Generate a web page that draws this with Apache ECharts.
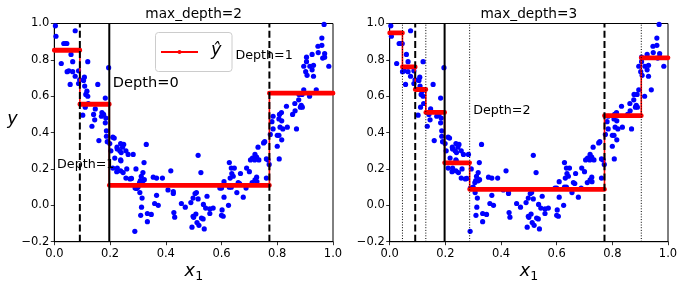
<!DOCTYPE html>
<html><head><meta charset="utf-8">
<script src="https://cdn.jsdelivr.net/npm/echarts@6/dist/echarts.min.js"></script>
<style>html,body{margin:0;padding:0;background:#fff}#c{width:684px;height:290px}</style>
</head><body><div id="c"></div>
<script>
// ---- data ----
const xs = [
0.004,0.006,0.025,0.034,0.040,0.045,0.046,0.052,0.066,0.057,0.060,0.066,0.075,0.075,0.087,0.087,0.091,0.105,0.108,0.109,
0.117,0.113,0.120,0.120,0.122,0.111,0.102,0.141,0.147,0.171,0.177,0.169,0.145,0.135,0.156,0.160,0.183,0.183,0.187,0.187,
0.190,0.195,0.185,0.199,
0.210,0.215,0.225,0.238,0.249,0.240,0.238,0.226,0.245,0.235,0.239,0.257,0.260,0.203,0.217,0.210,0.226,0.224,0.238,0.247,
0.257,0.272,0.277,0.265,0.283,0.293,0.312,0.318,0.318,0.322,0.306,0.300,0.290,0.295,0.307,0.315,0.313,0.310,0.334,0.348,
0.334,0.289,0.355,0.367,0.367,0.360,0.373,0.388,0.330,0.323,0.309,
0.418,0.427,0.408,0.427,0.429,0.432,0.456,0.470,0.490,0.498,0.498,0.494,0.505,0.510,0.516,0.512,0.519,0.528,0.534,0.538,
0.535,0.548,0.543,0.558,0.558,0.570,0.516,0.526,0.500,0.508,
0.602,0.600,0.606,0.594,0.600,0.609,0.609,0.625,0.628,0.628,0.631,0.635,0.637,0.646,0.635,0.642,0.655,0.660,0.668,0.665,
0.678,0.688,0.690,0.700,0.704,0.711,0.719,0.726,0.710,0.720,0.726,0.731,0.720,0.734,0.761,0.761,0.767,0.771,0.751,0.727,
0.800,0.807,0.755,0.775,0.781,0.785,0.785,0.800,0.806,0.810,0.806,0.808,0.815,0.816,0.820,0.816,0.833,0.836,0.855,0.863,
0.864,0.869,0.877,0.878,0.883,0.890,0.886,0.889,0.895,0.916,0.940,0.895,0.902,0.907,0.905,0.905,0.917,0.925,0.930,0.925,
0.930,0.946,0.960,0.947,0.970,0.963,0.970,0.985,0.960,0.968
];
const ys = [
0.987,0.930,0.780,0.890,0.890,0.890,0.735,0.740,0.735,0.665,0.830,0.790,0.960,0.710,0.740,0.670,0.690,0.687,0.705,0.656,
0.628,0.610,0.600,0.790,0.560,0.540,0.496,0.500,0.530,0.510,0.500,0.490,0.470,0.435,0.665,0.356,0.454,0.590,0.410,0.380,
0.350,0.757,0.480,0.340,
0.375,0.370,0.320,0.340,0.335,0.290,0.250,0.310,0.320,0.300,0.245,0.300,0.200,0.300,0.260,0.205,0.205,0.185,0.190,0.180,
0.150,0.145,0.148,0.280,0.280,0.200,0.160,0.135,0.180,0.235,0.125,0.100,0.095,0.093,0.070,0.040,-0.010,-0.055,-0.045,-0.050,
-0.090,-0.143,0.155,0.150,0.055,0.010,0.000,0.150,0.335,0.141,0.136,
0.190,0.075,0.085,0.065,-0.040,-0.065,0.010,-0.010,0.015,0.040,-0.060,-0.120,0.065,0.070,0.035,-0.095,-0.110,-0.070,-0.075,-0.130,
0.005,0.050,-0.015,-0.020,-0.045,-0.015,0.275,0.180,-0.066,-0.048,
-0.025,-0.055,-0.060,0.095,0.095,0.130,0.045,0.000,0.100,0.235,0.150,0.205,0.175,0.205,0.100,0.160,0.070,0.125,0.175,0.120,
0.045,0.095,0.205,0.185,0.250,0.260,0.250,0.265,0.125,0.140,0.155,0.320,0.280,0.250,0.150,0.255,0.250,0.225,0.343,0.130,
0.325,0.255,0.350,0.390,0.460,0.490,0.420,0.385,0.385,0.430,0.475,0.500,0.510,0.465,0.420,0.360,0.545,0.430,0.500,0.560,
0.520,0.420,0.580,0.610,0.540,0.540,0.550,0.610,0.635,0.600,0.635,0.765,0.735,0.715,0.790,0.815,0.765,0.745,0.770,0.830,
0.710,0.875,0.880,0.840,0.835,0.810,0.815,0.765,0.920,0.995
];
const depth0Splits = [0.1973];
const depth1Splits = [0.0917, 0.7718];
const depth2Splits = [0.0458, 0.1298, 0.2873, 0.9040];
const edgesDepth2 = [0, 0.0917, 0.1973, 0.7718, 1];
const predDepth2 = [0.853, 0.556, 0.110, 0.617];
const edgesDepth3 = [0, 0.0458, 0.0917, 0.1298, 0.1973, 0.2873, 0.7718, 0.9040, 1];
const predDepth3 = [0.948, 0.761, 0.637, 0.511, 0.234, 0.088, 0.493, 0.811];
const panelTitles = ['max_depth=2', 'max_depth=3'];
const xRange = [0, 1], yRange = [-0.2, 1];

// ---- build chart ----
const FONT = '"DejaVu Sans", sans-serif';
const chart = echarts.init(document.getElementById('c'), null, {renderer: 'canvas'});
const grids = [
  {left: 54.3, top: 23.5, width: 278.7, height: 218.2},
  {left: 389.7, top: 23.5, width: 278.3, height: 218.2}
];
function fmt(v){ return (Math.round(v*10)/10).toFixed(1).replace('-', '\u2212'); }
function axisCommon(){
  return {
    type: 'value', splitLine: {show: false},
    axisLine: {show: true, onZero: false, lineStyle: {color: '#000', width: 1}},
    axisTick: {show: true, inside: false, length: 3.5, lineStyle: {color: '#000', width: 0.8}},
    axisLabel: {color: '#000', fontSize: 11.5, fontFamily: FONT, formatter: fmt}
  };
}
const xAxes = [0,1].map(i => Object.assign(axisCommon(), {gridIndex: i, min: xRange[0], max: xRange[1], interval: 0.2,
  axisLabel: {color: '#000', fontSize: 11.5, fontFamily: FONT, formatter: fmt, margin: 6}}));
const yAxes = [0,1].map(i => Object.assign(axisCommon(), {gridIndex: i, min: yRange[0], max: yRange[1], interval: 0.2,
  axisLabel: {color: '#000', fontSize: 11.5, fontFamily: FONT, formatter: fmt, margin: 5}}));

const pts = xs.map((x, i) => [x, ys[i]]);
const series = [];
function stepPts(edges, vals){
  const out = [];
  vals.forEach((v, i) => { out.push([edges[i], v]); out.push([edges[i+1], v]); });
  return out;
}
function segPts(edges, vals){
  const out = [];
  vals.forEach((v, i) => { if (i) out.push('-'); out.push([edges[i], v]); out.push([edges[i+1], v]); });
  return out;
}
function vline(gi, x, type, width){
  series.push({type: 'line', xAxisIndex: gi, yAxisIndex: gi, data: [[x, yRange[0]], [x, yRange[1]]],
    symbol: 'none', silent: true, z: 6, animation: false,
    lineStyle: {color: '#000', width: width, type: type}});
}
[[edgesDepth2, predDepth2], [edgesDepth3, predDepth3]].forEach(([edges, vals], gi) => {
  series.push({type: 'scatter', xAxisIndex: gi, yAxisIndex: gi, data: pts, symbolSize: 5.2, clip: true,
    itemStyle: {color: '#0000ff', opacity: 1}, z: 2, animation: false});
  series.push({type: 'line', xAxisIndex: gi, yAxisIndex: gi, data: stepPts(edges, vals), symbol: 'none',
    lineStyle: {color: '#ff0000', width: 1.6}, z: 3, animation: false, clip: true});
  series.push({type: 'line', xAxisIndex: gi, yAxisIndex: gi, data: segPts(edges, vals), symbol: 'none',
    connectNulls: false, lineStyle: {color: '#ff0000', width: 4.8, cap: 'round'}, z: 4, animation: false, clip: true});
  depth0Splits.forEach(s => vline(gi, s, 'solid', 2));
  depth1Splits.forEach(s => vline(gi, s, [7, 3.2], 2));
  if (gi === 1) depth2Splits.forEach(s => vline(gi, s, [1, 1.7], 1));
});

chart.setOption({
  animation: false,
  grid: grids.map(g => Object.assign({show: true, borderColor: '#000', borderWidth: 1, backgroundColor: 'transparent'}, g)),
  xAxis: xAxes, yAxis: yAxes, series: series
});

// ---- annotations ----
function px(gi, x, y){ return chart.convertToPixel({xAxisIndex: gi, yAxisIndex: gi}, [x, y]); }
function txt(x, y, s, size, opts){
  return Object.assign({type: 'text', z: 20, silent: true, style: Object.assign({
    text: s, x: x, y: y, fill: '#000', fontSize: size, fontFamily: FONT,
    align: 'left', verticalAlign: 'middle', textAlign: 'left', textVerticalAlign: 'middle'}, opts || {})});
}
function baselineText(gi, dx, dy, s, size){
  const p = px(gi, dx, dy);
  return txt(p[0], p[1] - 0.3*size, s, size);
}
const g = [];
g.push(baselineText(0, 0.21, 0.65, 'Depth=0', 14.6));
g.push(baselineText(0, 0.01, 0.2, 'Depth=1', 12.7));
g.push(baselineText(0, 0.65, 0.8, 'Depth=1', 12.7));
g.push(baselineText(1, 0.3, 0.5, 'Depth=2', 12.7));
panelTitles.forEach((t, i) => {
  const cx = grids[i].left + grids[i].width/2;
  g.push(txt(cx, 14, t, 13.7, {align: 'center', textAlign: 'center'}));
  // x label: x_1
  g.push(txt(cx - 4, 271, 'x', 17.6, {fontStyle: 'italic', align: 'center', textAlign: 'center'}));
  g.push(txt(cx + 5.5, 277, '1', 12.5, {align: 'center', textAlign: 'center'}));
});
g.push(txt(12.5, 119, 'y', 17.6, {fontStyle: 'italic', align: 'center', textAlign: 'center'}));
// legend
g.push({type: 'rect', z: 15, shape: {x: 155.5, y: 32.5, width: 76.5, height: 39, r: 3},
  style: {fill: 'rgba(255,255,255,0.8)', stroke: '#cccccc', lineWidth: 1}});
g.push({type: 'line', z: 16, shape: {x1: 161, y1: 52, x2: 198, y2: 52}, style: {stroke: '#ff0000', lineWidth: 2}});
g.push({type: 'circle', z: 17, shape: {cx: 179.5, cy: 52, r: 2}, style: {fill: '#ff0000'}});
g.push(txt(211, 50, '\u0177', 17.6, {fontStyle: 'italic'}));
chart.setOption({graphic: {elements: g}});
</script>
</body></html>
